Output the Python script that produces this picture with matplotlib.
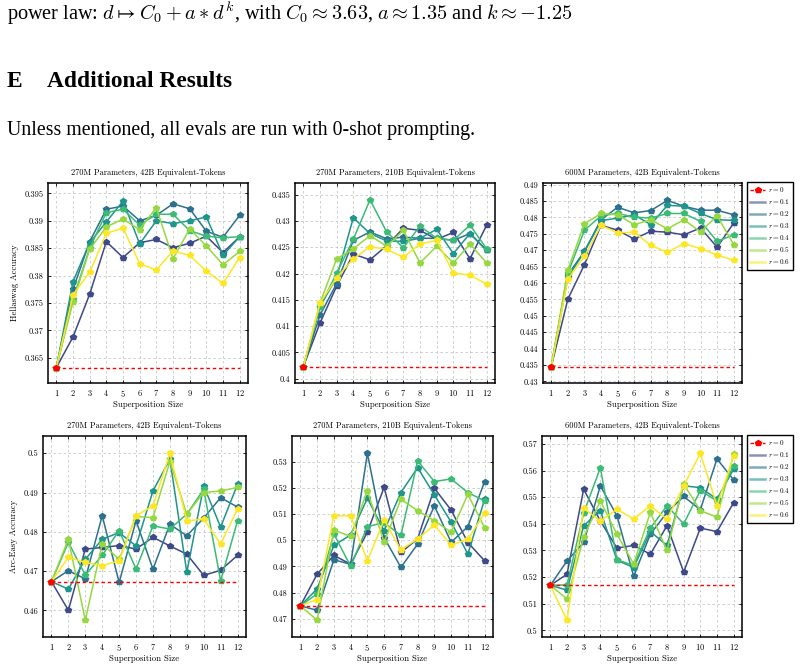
import numpy as np
import matplotlib
matplotlib.use("Agg")
import matplotlib.pyplot as plt
from matplotlib.ticker import FuncFormatter
from matplotlib.lines import Line2D

plt.rcParams['font.family'] = 'serif'
plt.rcParams['font.serif'] = ['cmr10']
plt.rcParams['mathtext.fontset'] = 'cm'
plt.rcParams['axes.formatter.use_mathtext'] = True

# ---------------- data ----------------
sizes = list(range(1, 13))
ratios = ["0.1", "0.2", "0.3", "0.4", "0.5", "0.6"]
titles = ["270M Parameters, 42B Equivalent-Tokens",
          "270M Parameters, 210B Equivalent-Tokens",
          "600M Parameters, 42B Equivalent-Tokens",
          "270M Parameters, 42B Equivalent-Tokens",
          "270M Parameters, 210B Equivalent-Tokens",
          "600M Parameters, 42B Equivalent-Tokens"]
ylabels = ["Hellaswag Accuracy", "", "", "Arc-Easy Accuracy", "", ""]
xlabel = "Superposition Size"

baseline = [0.3632, 0.4023, 0.4345, 0.4673, 0.4749, 0.5169]

# Hellaswag, 270M 42B
hs_270_42 = [
    [0.3632, 0.3688, 0.3766, 0.3862, 0.3833, 0.3860, 0.3866, 0.3851, 0.3859, 0.3872, 0.3842, 0.3871],
    [0.3632, 0.3775, 0.3862, 0.3921, 0.3927, 0.3900, 0.3910, 0.3931, 0.3922, 0.3881, 0.3870, 0.3910],
    [0.3632, 0.3789, 0.3860, 0.3898, 0.3936, 0.3858, 0.3900, 0.3895, 0.3900, 0.3907, 0.3837, 0.3871],
    [0.3632, 0.3757, 0.3850, 0.3915, 0.3921, 0.3892, 0.3912, 0.3912, 0.3882, 0.3872, 0.3869, 0.3871],
    [0.3632, 0.3752, 0.3848, 0.3889, 0.3903, 0.3884, 0.3924, 0.3831, 0.3885, 0.3854, 0.3820, 0.3844],
    [0.3632, 0.3765, 0.3806, 0.3877, 0.3887, 0.3822, 0.3810, 0.3845, 0.3837, 0.3808, 0.3786, 0.3833],
]
# Hellaswag, 270M 210B
hs_270_210 = [
    [0.4023, 0.4106, 0.4176, 0.4237, 0.4226, 0.4253, 0.4286, 0.4282, 0.4265, 0.4278, 0.4228, 0.4292],
    [0.4023, 0.4121, 0.4181, 0.4263, 0.4279, 0.4266, 0.4269, 0.4267, 0.4267, 0.4263, 0.4276, 0.4244],
    [0.4023, 0.4137, 0.4193, 0.4306, 0.4276, 0.4262, 0.4261, 0.4267, 0.4284, 0.4238, 0.4276, 0.4244],
    [0.4023, 0.4137, 0.4201, 0.4265, 0.4340, 0.4279, 0.4249, 0.4290, 0.4267, 0.4263, 0.4292, 0.4247],
    [0.4023, 0.4144, 0.4228, 0.4247, 0.4272, 0.4252, 0.4282, 0.4220, 0.4252, 0.4220, 0.4256, 0.4220],
    [0.4023, 0.4144, 0.4192, 0.4228, 0.4251, 0.4246, 0.4231, 0.4256, 0.4263, 0.4201, 0.4197, 0.4180],
]
# Hellaswag, 600M 42B
hs_600_42 = [
    [0.4345, 0.4551, 0.4656, 0.4776, 0.4761, 0.4734, 0.4758, 0.4755, 0.4747, 0.4768, 0.4709, 0.4783],
    [0.4345, 0.4625, 0.4697, 0.4793, 0.4831, 0.4814, 0.4821, 0.4852, 0.4834, 0.4822, 0.4822, 0.4808],
    [0.4345, 0.4618, 0.4695, 0.4790, 0.4798, 0.4808, 0.4778, 0.4837, 0.4834, 0.4812, 0.4793, 0.4791],
    [0.4345, 0.4630, 0.4761, 0.4805, 0.4812, 0.4801, 0.4798, 0.4812, 0.4812, 0.4788, 0.4727, 0.4747],
    [0.4345, 0.4641, 0.4781, 0.4812, 0.4808, 0.4778, 0.4793, 0.4765, 0.4793, 0.4756, 0.4805, 0.4717],
    [0.4345, 0.4612, 0.4681, 0.4776, 0.4753, 0.4755, 0.4715, 0.4694, 0.4720, 0.4705, 0.4686, 0.4669],
]
# Arc-Easy, 270M 42B
ae_270_42 = [
    [0.4673, 0.4600, 0.4756, 0.4760, 0.4765, 0.4756, 0.4786, 0.4764, 0.4743, 0.4689, 0.4702, 0.4740],
    [0.4673, 0.4701, 0.4680, 0.4841, 0.4671, 0.4828, 0.4705, 0.4819, 0.4790, 0.4835, 0.4887, 0.4863],
    [0.4673, 0.4654, 0.4730, 0.4781, 0.4798, 0.4764, 0.4904, 0.4985, 0.4697, 0.4917, 0.4812, 0.4921],
    [0.4673, 0.4773, 0.4690, 0.4740, 0.4803, 0.4705, 0.4815, 0.4807, 0.4845, 0.4908, 0.4675, 0.4828],
    [0.4673, 0.4781, 0.4575, 0.4769, 0.4730, 0.4839, 0.4836, 0.4979, 0.4845, 0.4900, 0.4904, 0.4913],
    [0.4673, 0.4735, 0.4722, 0.4714, 0.4726, 0.4841, 0.4866, 0.5000, 0.4828, 0.4832, 0.4769, 0.4858],
]
# Arc-Easy, 270M 210B
ae_270_210 = [
    [0.4749, 0.4870, 0.4942, 0.4908, 0.5031, 0.5202, 0.4953, 0.5005, 0.5198, 0.5115, 0.4991, 0.4921],
    [0.4749, 0.4732, 0.4925, 0.4908, 0.5332, 0.5010, 0.4896, 0.4985, 0.5131, 0.4992, 0.5052, 0.5224],
    [0.4749, 0.4814, 0.4980, 0.5020, 0.5160, 0.5036, 0.5182, 0.5277, 0.5173, 0.5069, 0.4947, 0.5156],
    [0.4749, 0.4795, 0.5024, 0.4900, 0.5052, 0.5067, 0.5018, 0.5303, 0.5224, 0.5234, 0.5182, 0.5150],
    [0.4749, 0.4694, 0.5039, 0.5014, 0.5189, 0.4992, 0.5156, 0.5113, 0.5074, 0.5031, 0.5175, 0.5048],
    [0.4749, 0.4773, 0.5093, 0.5093, 0.4921, 0.5078, 0.4963, 0.5005, 0.5058, 0.4980, 0.5004, 0.5103],
]
# Arc-Easy, 600M 42B
ae_600_42 = [
    [0.5169, 0.5211, 0.5530, 0.5411, 0.5309, 0.5319, 0.5286, 0.5393, 0.5219, 0.5384, 0.5371, 0.5480],
    [0.5169, 0.5261, 0.5330, 0.5543, 0.5430, 0.5203, 0.5361, 0.5443, 0.5503, 0.5453, 0.5644, 0.5565],
    [0.5169, 0.5151, 0.5393, 0.5450, 0.5263, 0.5236, 0.5371, 0.5319, 0.5543, 0.5536, 0.5493, 0.5606],
    [0.5169, 0.5171, 0.5440, 0.5611, 0.5265, 0.5244, 0.5384, 0.5468, 0.5400, 0.5525, 0.5486, 0.5619],
    [0.5169, 0.5118, 0.5350, 0.5486, 0.5361, 0.5249, 0.5443, 0.5300, 0.5549, 0.5450, 0.5425, 0.5661],
    [0.5169, 0.5038, 0.5459, 0.5411, 0.5455, 0.5418, 0.5468, 0.5418, 0.5543, 0.5665, 0.5468, 0.5656],
]
panels = [hs_270_42, hs_270_210, hs_600_42, ae_270_42, ae_270_210, ae_600_42]

yticks = [
    [0.365, 0.37, 0.375, 0.38, 0.385, 0.39, 0.395],
    [0.4, 0.405, 0.41, 0.415, 0.42, 0.425, 0.43, 0.435],
    [0.43, 0.435, 0.44, 0.445, 0.45, 0.455, 0.46, 0.465, 0.47, 0.475, 0.48, 0.485, 0.49],
    [0.46, 0.47, 0.48, 0.49, 0.5],
    [0.47, 0.48, 0.49, 0.5, 0.51, 0.52, 0.53],
    [0.5, 0.51, 0.52, 0.53, 0.54, 0.55, 0.56, 0.57],
]
ylims = [(0.3604, 0.3969), (0.3992, 0.4372), (0.4295, 0.4905),
         (0.4532, 0.5044), (0.4630, 0.5398), (0.4975, 0.5730)]

# ---------------- layout ----------------
W, H = 801, 665
fig = plt.figure(figsize=(W / 100, H / 100), dpi=100)

def rect(l, t, r, b):
    return [l / W, 1 - b / H, (r - l) / W, (b - t) / H]

boxes = [(48, 183, 248, 383), (295, 183, 495, 383), (543, 183, 742, 383),
         (43, 436, 246, 637), (292, 436, 493, 637), (542, 436, 742, 637)]

colors = [plt.cm.viridis(v) for v in [0.22, 0.37, 0.52, 0.68, 0.84, 1.0]]

# page text
fig.text(7 / W, 1 - 20 / H,
         r"power law: $d \mapsto C_0 + a \ast d^k$, with $C_0 \approx 3.63$, "
         r"$a \approx 1.35$ and $k \approx {-}1.25$",
         family='Liberation Serif', fontsize=14.6, va='baseline', ha='left')
fig.text(7 / W, 1 - 87 / H, "E", family='Liberation Serif', fontsize=16.8,
         fontweight='bold', va='baseline', ha='left')
fig.text(47 / W, 1 - 87 / H, "Additional Results", family='Liberation Serif',
         fontsize=16.8, fontweight='bold', va='baseline', ha='left')
fig.text(7 / W, 1 - 135 / H,
         "Unless mentioned, all evals are run with 0-shot prompting.",
         family='Liberation Serif', fontsize=14.3, va='baseline', ha='left')

fmt = FuncFormatter(lambda v, p: "%g" % round(v, 4))

for i, ax_box in enumerate(boxes):
    ax = fig.add_axes(rect(*ax_box))
    data = panels[i]
    for j, ser in enumerate(data):
        ax.plot(sizes, ser, color=colors[j], lw=1.1, marker='p', ms=4.2,
                mec=colors[j], mfc=colors[j], zorder=3 + j)
    ax.plot(sizes, [baseline[i]] * len(sizes), color='red', lw=1.0,
            ls=(0, (2.5, 2)), marker='p', ms=4.2, markevery=[0], zorder=20)
    ax.set_xlim(0.5, 12.5)
    ax.set_ylim(*ylims[i])
    ax.set_xticks(sizes)
    ax.set_yticks(yticks[i])
    ax.yaxis.set_major_formatter(fmt)
    ax.grid(True, ls=(0, (3, 3)), color='#c8c8c8', lw=0.6)
    ax.set_axisbelow(True)
    ax.tick_params(direction='in', length=2.5, width=0.6, labelsize=6,
                   top=True, right=True, pad=3.5)
    for s in ax.spines.values():
        s.set_linewidth(1.1)
    ax.set_title(titles[i], fontsize=6, pad=6)
    ax.set_xlabel(xlabel, fontsize=6.3, labelpad=1.5)
    if ylabels[i]:
        ax.set_ylabel(ylabels[i], fontsize=6.3, labelpad=4)
    if i in (2, 5):
        handles = [Line2D([], [], color='red', lw=1.0, ls=(0, (2.5, 2)),
                          marker='p', ms=4.2)]
        labels = [r"$r = 0$"]
        for j in range(len(ratios)):
            handles.append(Line2D([], [], color=colors[j], lw=1.8, alpha=0.6))
            labels.append(r"$r = %s$" % ratios[j])
        leg = ax.legend(handles, labels,
                        loc='upper left', bbox_to_anchor=(1.025, 1.005),
                        fontsize=5.2, frameon=True, fancybox=False,
                        edgecolor='black', framealpha=1, borderpad=0.45,
                        labelspacing=0.42, handlelength=2.1, handletextpad=0.35,
                        borderaxespad=0)
        leg.get_frame().set_linewidth(1.0)

fig.savefig("out.png", dpi=100)
